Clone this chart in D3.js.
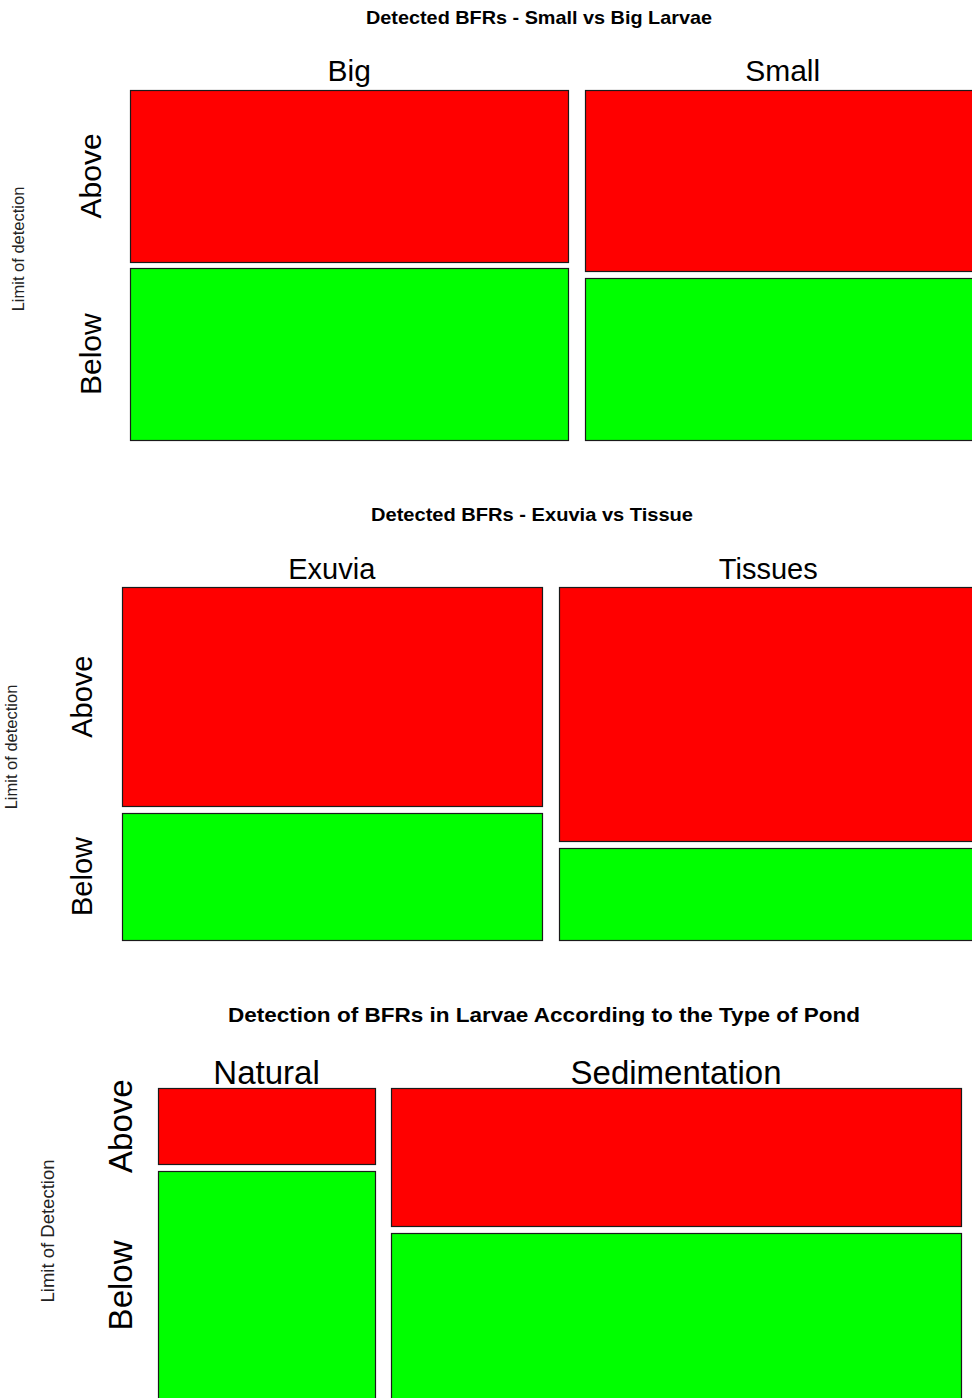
<!DOCTYPE html>
<html>
<head>
<meta charset="utf-8">
<script src="https://cdn.jsdelivr.net/npm/d3@7"></script>
<style>
  html, body { margin: 0; padding: 0; background: #ffffff; }
  svg { display: block; }
  text { font-family: "Liberation Sans", Arial, sans-serif; }
</style>
</head>
<body>
<div id="chart"></div>
<script>
// Detection counts (Above / Below the limit of detection) per group
const levels = ["Above", "Below"];
const levelColors = ["#ff0000", "#00ff00"];

const sizeCategories = ["Big", "Small"];
const sizeAbove = [20, 19];
const sizeBelow = [20, 17];

const matrixCategories = ["Exuvia", "Tissues"];
const matrixAbove = [19, 22];
const matrixBelow = [11, 8];

const pondCategories = ["Natural", "Sedimentation"];
const pondAbove = [4, 19];
const pondBelow = [12, 23];

const titles = [
  "Detected BFRs - Small vs Big Larvae",
  "Detected BFRs - Exuvia vs Tissue",
  "Detection of BFRs in Larvae According to the Type of Pond"
];
const yTitles = ["Limit of detection", "Limit of detection", "Limit of Detection"];

const W = 972, H = 1398;
const svg = d3.select("#chart").append("svg").attr("width", W).attr("height", H);

// Layout of each mosaic panel (the plotting region runs slightly past the page edge)
const panels = [
  {
    cats: sizeCategories, above: sizeAbove, below: sizeBelow, title: titles[0], yTitle: yTitles[0],
    left: 130, right: 980, top: 90, bottom: 440, colGap: 17, rowGap: 6.5,
    titleX: 539, titleY: 24, titleSize: 19, titleLen: 346,
    catY: 81, catSize: 30, levelX: 90, levelSize: 30,
    yTitleX: 18, yTitleY: 249, yTitleSize: 16.5
  },
  {
    cats: matrixCategories, above: matrixAbove, below: matrixBelow, title: titles[1], yTitle: yTitles[1],
    left: 122, right: 978, top: 587, bottom: 940, colGap: 17, rowGap: 6.5,
    titleX: 532, titleY: 521, titleSize: 19, titleLen: 322,
    catY: 579, catSize: 29, levelX: 82, levelSize: 29,
    yTitleX: 11, yTitleY: 747, yTitleSize: 16.5
  },
  {
    cats: pondCategories, above: pondAbove, below: pondBelow, title: titles[2], yTitle: yTitles[2],
    left: 158, right: 961, top: 1088, bottom: 1400, colGap: 16, rowGap: 6.5,
    titleX: 544, titleY: 1022, titleSize: 21, titleLen: 632,
    catY: 1084, catSize: 33, levelX: 120, levelSize: 33,
    yTitleX: 48, yTitleY: 1231, yTitleSize: 18.5
  }
];

panels.forEach(p => {
  const g = svg.append("g");
  const totals = p.cats.map((c, i) => p.above[i] + p.below[i]);
  const grand = d3.sum(totals);
  const n = p.cats.length;

  // Column widths proportional to group size
  const x = d3.scaleLinear().domain([0, grand]).range([p.left, p.right - p.colGap * (n - 1)]);
  const starts = d3.cumsum([0].concat(totals)).slice(0, n);

  const tiles = [];
  p.cats.forEach((c, i) => {
    const x0 = x(starts[i]) + p.colGap * i;
    const x1 = x(starts[i] + totals[i]) + p.colGap * i;
    // Row heights proportional to share within the group
    const y = d3.scaleLinear().domain([0, totals[i]]).range([p.top, p.bottom - p.rowGap]);
    const vals = [p.above[i], p.below[i]];
    let cum = 0;
    vals.forEach((v, j) => {
      const y0 = y(cum) + p.rowGap * j;
      const y1 = y(cum + v) + p.rowGap * j;
      tiles.push({ col: i, level: j, x0, x1, y0, y1 });
      cum += v;
    });
  });

  g.selectAll("rect.tile").data(tiles).join("rect")
    .attr("class", "tile")
    .attr("x", d => Math.round(d.x0) + 0.5)
    .attr("y", d => Math.round(d.y0) + 0.5)
    .attr("width", d => Math.round(d.x1) - Math.round(d.x0))
    .attr("height", d => Math.round(d.y1) - Math.round(d.y0))
    .attr("fill", d => levelColors[d.level])
    .attr("stroke", "#1a1a1a")
    .attr("stroke-width", 1.2);

  // Panel title
  g.append("text")
    .attr("x", p.titleX).attr("y", p.titleY)
    .attr("text-anchor", "middle")
    .attr("font-weight", "bold")
    .attr("font-size", p.titleSize)
    .attr("textLength", p.titleLen)
    .attr("lengthAdjust", "spacingAndGlyphs")
    .attr("fill", "#000")
    .text(p.title);

  // Group labels centred above the columns
  const colTiles = tiles.filter(t => t.level === 0);
  g.selectAll("text.cat").data(colTiles).join("text")
    .attr("class", "cat")
    .attr("x", d => (d.x0 + d.x1) / 2)
    .attr("y", p.catY)
    .attr("text-anchor", "middle")
    .attr("font-size", p.catSize)
    .attr("fill", "#000")
    .text(d => p.cats[d.col]);

  // Level labels, centred on the first column's tiles
  const firstCol = tiles.filter(t => t.col === 0);
  g.selectAll("text.level").data(firstCol).join("text")
    .attr("class", "level")
    .attr("transform", d => `translate(${p.levelX},${(d.y0 + d.y1) / 2}) rotate(-90)`)
    .attr("text-anchor", "middle")
    .attr("dy", "0.35em")
    .attr("font-size", p.levelSize)
    .attr("fill", "#000")
    .text(d => levels[d.level]);

  // Axis title
  g.append("text")
    .attr("transform", `translate(${p.yTitleX},${p.yTitleY}) rotate(-90)`)
    .attr("text-anchor", "middle")
    .attr("dy", "0.35em")
    .attr("font-size", p.yTitleSize)
    .attr("fill", "#222")
    .text(p.yTitle);
});
</script>
</body>
</html>
